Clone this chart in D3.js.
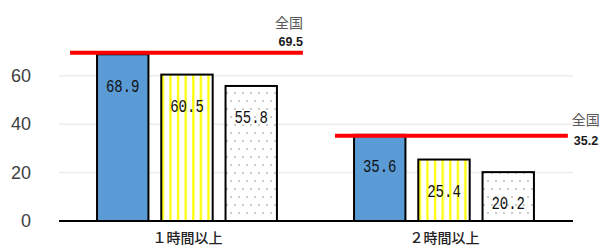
<!DOCTYPE html>
<html><head><meta charset="UTF-8">
<script src="https://d3js.org/d3.v7.min.js"></script>
<style>
  body { margin: 0; background: #fff; }
</style>
</head>
<body>
<script>
  // chart data
  const categories = ["１時間以上", "２時間以上"];
  const seriesNames = ["s1", "s2", "s3"];
  const s1 = [68.9, 35.6];
  const s2 = [60.5, 25.4];
  const s3 = [55.8, 20.2];
  const nationalLabel = "全国";
  const national = [69.5, 35.2];
  const yTicks = [0, 20, 40, 60];

  const W = 603, H = 247;
  const plotL = 59, plotR = 573, plotB = 221, plotT = 27.4;

  const svg = d3.select("body").append("svg")
      .attr("width", W).attr("height", H);

  // patterns
  const defs = svg.append("defs");
  const stripe = defs.append("pattern").attr("id", "stripe")
      .attr("patternUnits", "userSpaceOnUse").attr("width", 7.6).attr("height", 10)
      .attr("x", 2);
  stripe.append("rect").attr("width", 7.6).attr("height", 10).attr("fill", "#fff");
  stripe.append("rect").attr("x", 2).attr("width", 2.2).attr("height", 10).attr("fill", "#ffff00");

  const dots = defs.append("pattern").attr("id", "dots")
      .attr("patternUnits", "userSpaceOnUse").attr("width", 16).attr("height", 16)
      .attr("x", 2).attr("y", 3);
  dots.append("rect").attr("width", 16).attr("height", 16).attr("fill", "#fff");
  [[2, 2], [10, 2], [6, 10], [14, 10]].forEach(p => {
    dots.append("circle").attr("cx", p[0]).attr("cy", p[1]).attr("r", 0.75).attr("fill", "#7f7f7f");
  });

  const fills = ["#5b9bd5", "url(#stripe)", "url(#dots)"];

  const x0 = d3.scaleBand().domain(categories).range([plotL, plotR]);
  const x1 = d3.scaleBand().domain(seriesNames)
      .range([x0.bandwidth() * 0.148, x0.bandwidth() * 0.848]).paddingInner(0.2);
  const y = d3.scaleLinear().domain([0, 80]).range([plotB, plotT]);

  // gridlines
  svg.append("g").selectAll("line").data(yTicks.filter(d => d > 0)).join("line")
      .attr("x1", plotL).attr("x2", plotR)
      .attr("y1", d => y(d)).attr("y2", d => y(d))
      .attr("stroke", "#ececec").attr("stroke-width", 1.5);

  // y axis labels
  const yAxis = svg.append("g").attr("transform", `translate(31,0)`)
      .call(d3.axisLeft(y).tickValues(yTicks).tickSize(0).tickPadding(0));
  yAxis.select(".domain").remove();
  yAxis.selectAll("text")
      .attr("font-family", "Liberation Sans, Arial, sans-serif")
      .attr("font-size", 18).attr("fill", "#404040");

  const rows = categories.map((c, i) => ({
    cat: c,
    vals: [s1[i], s2[i], s3[i]].map((v, k) => ({ key: seriesNames[k], v: v, k: k }))
  }));

  const groups = svg.append("g").selectAll("g").data(rows).join("g")
      .attr("transform", d => `translate(${x0(d.cat)},0)`);

  groups.selectAll("rect").data(d => d.vals).join("rect")
      .attr("x", d => x1(d.key))
      .attr("y", d => y(d.v))
      .attr("width", x1.bandwidth())
      .attr("height", d => y(0) - y(d.v))
      .attr("fill", d => fills[d.k])
      .attr("stroke", "#000").attr("stroke-width", 2);

  // value labels (narrow, tall digits)
  groups.selectAll("text.val").data(d => d.vals).join("text")
      .attr("class", "val")
      .attr("x", d => x1(d.key) + x1.bandwidth() / 2)
      .attr("y", d => (y(d.v) + 31) / 1.28)
      .attr("dy", "0.35em")
      .attr("text-anchor", "middle")
      .attr("font-family", "Liberation Mono, DejaVu Sans Mono, monospace")
      .attr("font-size", 14)
      .attr("transform", "scale(1,1.28)")
      .attr("fill", "#111")
      .text(d => d3.format(".1f")(d.v));

  // baseline
  svg.append("line").attr("x1", plotL).attr("x2", plotR)
      .attr("y1", y(0)).attr("y2", y(0))
      .attr("stroke", "#000").attr("stroke-width", 2);

  // national average lines
  const bw = x0.bandwidth();
  const lineStart = [0.043, 0.074];
  categories.forEach((c, i) => {
    const ly = y(national[i]);
    const lx1 = x0(c) + bw * lineStart[i], lx2 = lx1 + bw * 0.906;
    svg.append("line").attr("x1", lx1).attr("x2", lx2)
        .attr("y1", ly).attr("y2", ly)
        .attr("stroke", "#ff0000").attr("stroke-width", 4);
    const lab = svg.append("g");
    const first = i === 0;
    lab.append("text")
        .attr("x", first ? lx2 : lx2 + 4)
        .attr("y", first ? ly - 30 : ly - 16).attr("dy", "0.35em")
        .attr("text-anchor", first ? "end" : "start")
        .attr("font-size", 14).attr("fill", "#595959")
        .attr("font-family", "Noto Sans CJK JP, sans-serif").text(nationalLabel);
    lab.append("text")
        .attr("x", first ? lx2 : lx2 + 6)
        .attr("y", first ? ly - 11 : ly + 4.5).attr("dy", "0.35em")
        .attr("text-anchor", first ? "end" : "start")
        .attr("font-size", 12.5).attr("fill", "#1a1a1a")
        .attr("font-weight", "bold")
        .attr("font-family", "Liberation Sans, Arial, sans-serif").text(national[i].toFixed(1));
  });

  // category labels
  svg.append("g").selectAll("text").data(categories).join("text")
      .attr("x", d => x0(d) + bw / 2)
      .attr("y", 238.5).attr("dy", "0.35em")
      .attr("text-anchor", "middle")
      .attr("font-family", "Noto Sans CJK JP, sans-serif")
      .attr("font-size", 14).attr("font-weight", 500).attr("fill", "#222")
      .text(d => d);
</script>
</body>
</html>
